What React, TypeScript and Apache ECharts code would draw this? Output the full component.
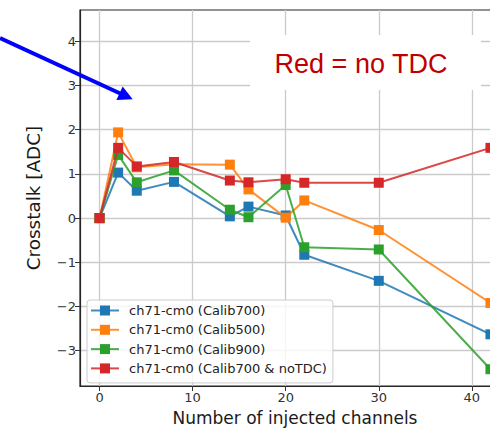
import React, { useEffect, useRef } from "react";
import * as echarts from "echarts";

// Number of injected channels (shared x values for every series)
const channels = [0, 2, 4, 8, 14, 16, 20, 22, 30, 42];

// Crosstalk [ADC] per calibration
const calib700 = [0, 1.03, 0.62, 0.82, 0.04, 0.26, 0.06, -0.83, -1.42, -2.63];
const calib500 = [0, 1.94, 1.15, 1.22, 1.21, 0.65, 0.01, 0.4, -0.27, -1.92];
const calib900 = [0, 1.43, 0.81, 1.08, 0.19, 0.02, 0.75, -0.66, -0.71, -3.42];
const calib700NoTdc = [0, 1.59, 1.17, 1.27, 0.85, 0.81, 0.88, 0.8, 0.8, 1.59];

const seriesNames = [
  "ch71-cm0 (Calib700)",
  "ch71-cm0 (Calib500)",
  "ch71-cm0 (Calib900)",
  "ch71-cm0 (Calib700 & noTDC)",
];
const seriesValues = [calib700, calib500, calib900, calib700NoTdc];
const seriesColors = ["#1f77b4", "#ff7f0e", "#2ca02c", "#d62728"];

// Tick labels
const xTicks = [0, 10, 20, 30, 40];
const yTicks = [-3, -2, -1, 0, 1, 2, 3, 4];

const FONT = "DejaVu Sans";

const fmt = (v: number) => (v < 0 ? "\u2212" + Math.abs(v) : String(v));

export default function App() {
  const ref = useRef<HTMLDivElement>(null);

  useEffect(() => {
    if (!ref.current) return;
    const chart = echarts.init(ref.current, null, { renderer: "svg" });

    const series = seriesNames.map((name, i) => ({
      name,
      type: "line",
      data: channels.map((x, j) => [x, seriesValues[i][j]]),
      symbol: "rect",
      symbolSize: 10,
      color: seriesColors[i],
      lineStyle: { width: 2, opacity: 0.85 },
      itemStyle: { color: seriesColors[i] },
      z: 3 + i,
    }));

    // Arrow: shaft + head
    const tip = [132.7, 99.3];
    const start = [0, 38];
    const dx = tip[0] - start[0];
    const dy = tip[1] - start[1];
    const len = Math.hypot(dx, dy);
    const ux = dx / len;
    const uy = dy / len;
    const headLen = 14.5;
    const headHalf = 7.5;
    const base = [tip[0] - ux * headLen, tip[1] - uy * headLen];

    chart.setOption({
      animation: false,
      backgroundColor: "#ffffff",
      grid: {
        left: 80,
        top: 10,
        width: 430,
        height: 379,
        show: true,
        borderColor: "#262626",
        borderWidth: 1.2,
      },
      xAxis: {
        type: "value",
        min: -2.1,
        max: 44.1,
        name: "Number of injected channels",
        nameLocation: "middle",
        nameGap: 23,
        nameTextStyle: { fontFamily: FONT, fontSize: 17, color: "#1a1a1a" },
        axisLine: { show: true, onZero: false, lineStyle: { color: "#262626", width: 1.2 } },
        axisTick: {
          show: true,
          customValues: xTicks,
          length: 5,
          lineStyle: { color: "#333", width: 1 },
        },
        axisLabel: {
          customValues: xTicks,
          formatter: fmt,
          fontFamily: FONT,
          fontSize: 13,
          color: "#333",
          margin: 5,
        },
        splitLine: { show: true, lineStyle: { color: "#cbcbcb", width: 1.3 } },
      },
      yAxis: {
        type: "value",
        min: -3.8,
        max: 4.71,
        name: "Crosstalk [ADC]",
        nameLocation: "middle",
        nameGap: 38,
        nameTextStyle: { fontFamily: FONT, fontSize: 18.4, color: "#1a1a1a" },
        axisLine: { show: true, onZero: false, lineStyle: { color: "#262626", width: 1.2 } },
        axisTick: {
          show: true,
          customValues: yTicks,
          length: 5,
          lineStyle: { color: "#333", width: 1 },
        },
        axisLabel: {
          customValues: yTicks,
          formatter: fmt,
          fontFamily: FONT,
          fontSize: 13,
          color: "#333",
          margin: 4,
        },
        splitLine: { show: true, lineStyle: { color: "#cbcbcb", width: 1.3 } },
      },
      legend: {
        data: seriesNames,
        orient: "vertical",
        left: 87,
        top: 300,
        padding: [4, 6, 8, 3],
        itemWidth: 28,
        itemHeight: 12.5,
        itemGap: 6.3,
        backgroundColor: "rgba(255,255,255,0.8)",
        borderColor: "#cccccc",
        borderWidth: 1,
        borderRadius: 3,
        textStyle: {
          fontFamily: FONT,
          fontSize: 13,
          color: "#222",
          padding: [0, 0, 0, 5],
        },
        z: 20,
      },
      graphic: [
        {
          type: "rect",
          shape: { x: 250, y: 35, width: 231, height: 55 },
          style: { fill: "#ffffff" },
          z: 30,
        },
        {
          type: "text",
          x: 361,
          y: 64,
          style: {
            text: "Red = no TDC",
            fill: "#c00000",
            font: '27px "Liberation Sans", Arial, sans-serif',
            textAlign: "center",
            textVerticalAlign: "middle",
          },
          z: 31,
        },
        {
          type: "line",
          shape: { x1: start[0], y1: start[1], x2: base[0] + ux * 2, y2: base[1] + uy * 2 },
          style: { stroke: "#0000ff", lineWidth: 4 },
          z: 30,
        },
        {
          type: "polygon",
          shape: {
            points: [
              tip,
              [base[0] - uy * headHalf, base[1] + ux * headHalf],
              [base[0] + uy * headHalf, base[1] - ux * headHalf],
            ],
          },
          style: { fill: "#0000ff" },
          z: 31,
        },
      ],
      series,
    });

    return () => chart.dispose();
  }, []);

  return (
    <div
      style={{
        position: "fixed",
        left: 0,
        top: 0,
        width: 490,
        height: 431,
        overflow: "hidden",
        background: "#fff",
      }}
    >
      <div ref={ref} style={{ width: 530, height: 431 }} />
    </div>
  );
}
